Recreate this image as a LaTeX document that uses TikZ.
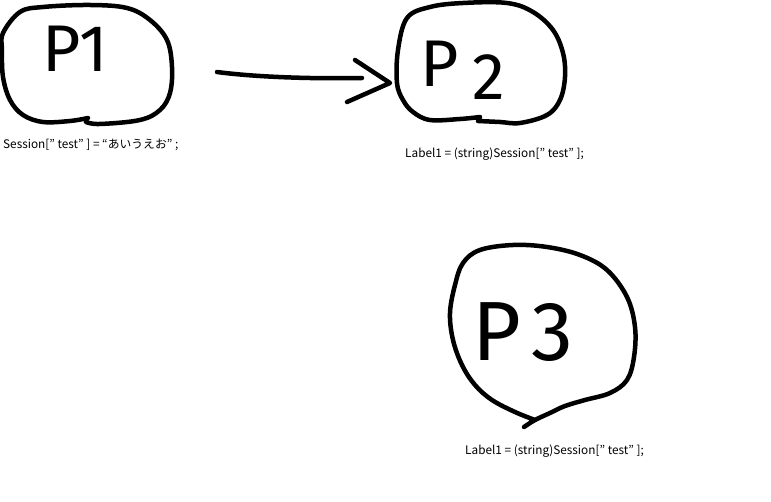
\documentclass[tikz,border=0pt]{standalone}
\usepackage{fontspec}
\setmainfont{Fira Sans}
\newfontfamily\cjk{Noto Sans CJK JP}
\begin{document}
\begin{tikzpicture}[x=1pt,y=-1pt,
    blob/.style={line width=4.5pt,line cap=round,line join=round},
    big/.style={anchor=base west,inner sep=0pt,font=\fontsize{66}{66}\selectfont},
    lbl/.style={anchor=base west,inner sep=0pt,font=\cjk\fontsize{11.8}{11.8}\selectfont}]
  \useasboundingbox (0,0) rectangle (771,502);
  % page 1
  \draw[blob] plot[smooth,tension=0.6] coordinates {(86,122) (100,124) (140,120) (160,110) (170,93) (172,67) (167,40) (150,20) (127,8) (90,5) (43,7) (20,12) (3,33) (2,50) (3,77) (10,100) (23,115) (43,122) (70,121) (88,118)};
  \node[big] (p1) at (42,72) {P1};
  \node[lbl] (s1) at (3,149) {Session[” test” ] = “あいうえお” ;};
  % page 2
  \draw[blob] plot[smooth,tension=0.6] coordinates {(478,121) (500,122) (520,123) (547,115) (560,100) (565,77) (563,53) (553,30) (533,12) (507,3) (463,3) (430,7) (407,18) (398,50) (397,83) (403,100) (413,112) (430,120) (460,119) (480,117)};
  \node[big] (p2) at (420,87) {P\hspace{14pt}\raisebox{-13pt}{2}};
  \node[lbl] (s2) at (405,158) {Label1 = (string)Session[” test” ];};
  % page 3
  \draw[blob] plot[smooth,tension=0.6] coordinates {(524,427) (535,420) (550,413) (565,406) (585,400) (610,393) (627,380) (634,357) (635,327) (627,297) (607,270) (580,255) (547,247) (513,245) (480,250) (463,263) (455,285) (450,313) (453,340) (462,365) (475,385) (492,400) (515,412) (535,420)};
  \node[big,font=\fontsize{84}{84}\selectfont] (p3) at (472,361) {P\hspace{10pt}3};
  \node[lbl] (s3) at (465,454) {Label1 = (string)Session[” test” ];};
  % arrow
  \coordinate (a) at (217,72);
  \coordinate (b) at (362,78);
  \coordinate (t) at (390,83);
  \coordinate (h1) at (355,60);
  \coordinate (h2) at (347,102);
  \draw[blob] (a) .. controls (255,77) and (310,79) .. (b);
  \draw[blob] (h1) -- (t) -- (h2);
\end{tikzpicture}
\end{document}
